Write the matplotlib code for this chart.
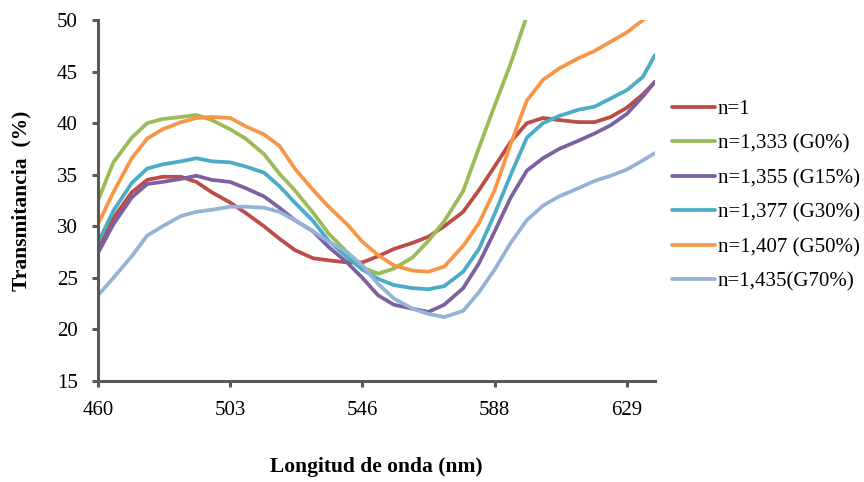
import numpy as np
import matplotlib
matplotlib.use("Agg")
import matplotlib.pyplot as plt

# wavelength samples (nm)
wl = [460, 465, 471, 476, 481, 487, 492, 497, 503, 508, 514, 519, 524, 530, 535, 541,
      546, 551, 556, 562, 567, 572, 578, 583, 588, 593, 598, 603, 608, 614, 619, 624,
      629, 634, 637.7]

n_1 = [28.0, 30.8, 33.3, 34.5, 34.8, 34.8, 34.3, 33.3, 32.3, 31.3, 30.0, 28.8, 27.7, 26.9,
       26.7, 26.5, 26.5, 27.1, 27.8, 28.4, 29.0, 30.0, 31.4, 33.5, 35.8, 38.2, 40.0, 40.5,
       40.3, 40.1, 40.1, 40.6, 41.5, 42.8, 44.0]
n_1333 = [32.5, 36.2, 38.6, 40.0, 40.4, 40.6, 40.8, 40.3, 39.4, 38.5, 37.0, 35.1, 33.5, 31.3,
          29.3, 27.5, 26.0, 25.4, 25.9, 27.0, 28.6, 30.5, 33.4, 37.6, 41.7, 45.8, 50.4]
n_1355 = [27.4, 30.2, 32.8, 34.1, 34.3, 34.6, 34.9, 34.5, 34.3, 33.7, 32.9, 31.8, 30.6, 29.5,
          28.0, 26.5, 25.0, 23.3, 22.4, 22.0, 21.7, 22.4, 24.0, 26.4, 29.5, 32.8, 35.4, 36.6,
          37.5, 38.3, 39.0, 39.8, 40.9, 42.6, 44.0]
n_1377 = [28.4, 31.5, 34.2, 35.6, 36.0, 36.3, 36.6, 36.3, 36.2, 35.8, 35.2, 33.9, 32.3, 30.5,
          28.6, 27.0, 25.8, 24.9, 24.3, 24.0, 23.9, 24.2, 25.6, 27.8, 31.2, 35.0, 38.6, 40.0,
          40.7, 41.3, 41.6, 42.4, 43.2, 44.5, 46.6]
n_1407 = [30.2, 33.3, 36.6, 38.5, 39.4, 40.1, 40.5, 40.6, 40.5, 39.7, 38.9, 37.8, 35.6, 33.5,
          31.9, 30.2, 28.5, 27.2, 26.2, 25.7, 25.6, 26.1, 28.1, 30.3, 33.5, 38.0, 42.2, 44.2,
          45.3, 46.3, 47.0, 47.9, 48.8, 50.0, 51.0]
n_1435 = [23.3, 25.0, 27.1, 29.1, 30.0, 31.0, 31.4, 31.6, 31.9, 31.9, 31.8, 31.4, 30.6, 29.5,
          28.5, 27.5, 26.2, 24.4, 23.0, 22.0, 21.5, 21.2, 21.8, 23.6, 25.8, 28.4, 30.6, 32.0,
          32.9, 33.7, 34.4, 34.9, 35.5, 36.4, 37.1]

labels = ["n=1", "n=1,333 (G0%)", "n=1,355 (G15%)", "n=1,377 (G30%)",
          "n=1,407 (G50%)", "n=1,435(G70%)"]
colors = ["#BE4B48", "#9BBB59", "#7D60A0", "#4BACC6", "#F79646", "#95B3D7"]
series = [n_1, n_1333, n_1355, n_1377, n_1407, n_1435]

tick_wl = [460, 503, 546, 588, 629]

# category-like axis: tick labels evenly spaced
knots_wl = [460, 503, 546, 588, 629, 670]
knots_pos = [0, 1, 2, 3, 4, 5]
fwd = lambda x: np.interp(x, knots_wl, knots_pos)
inv = lambda p: np.interp(p, knots_pos, knots_wl)

plt.rcParams["font.family"] = ["Liberation Serif", "DejaVu Serif"]

fig = plt.figure(figsize=(8.64, 4.82), dpi=100)
ax = fig.add_axes([0.1134, 0.2095, 0.758 - 0.1134, 0.9585 - 0.2095])
ax.set_xscale("function", functions=(fwd, inv))

for ys, lab, c in zip(series, labels, colors):
    ax.plot(wl[:len(ys)], ys, color=c, lw=2.7, label=lab,
            solid_capstyle="round", solid_joinstyle="round")

ax.set_xlim(460, 637.7)
ax.set_ylim(15, 50)
ax.set_xticks(tick_wl)
ax.set_xticklabels([str(t) for t in tick_wl])
ax.set_yticks(range(15, 51, 5))

for s in ["top", "right"]:
    ax.spines[s].set_visible(False)
for s in ["left", "bottom"]:
    ax.spines[s].set_color("#595959")
    ax.spines[s].set_linewidth(2.2)
ax.tick_params(axis="both", direction="out", length=4.5, width=2.2, color="#595959",
               labelsize=15, pad=10)

ax.set_xlabel("Longitud de onda (nm)", fontsize=15.5, fontweight="bold")
ax.set_ylabel("Transmitancia  (%)", fontsize=15.5, fontweight="bold")
ax.xaxis.set_label_coords(0.5, -0.21)
ax.yaxis.set_label_coords(-0.12, 0.5)

ax.legend(loc="center left", bbox_to_anchor=(672 / 864, 1 - 195.5 / 482),
          bbox_transform=fig.transFigure, frameon=False, fontsize=15,
          handlelength=2.05, handletextpad=0.15, labelspacing=0.72,
          borderpad=0, borderaxespad=0)

fig.savefig("out.png", dpi=100)
